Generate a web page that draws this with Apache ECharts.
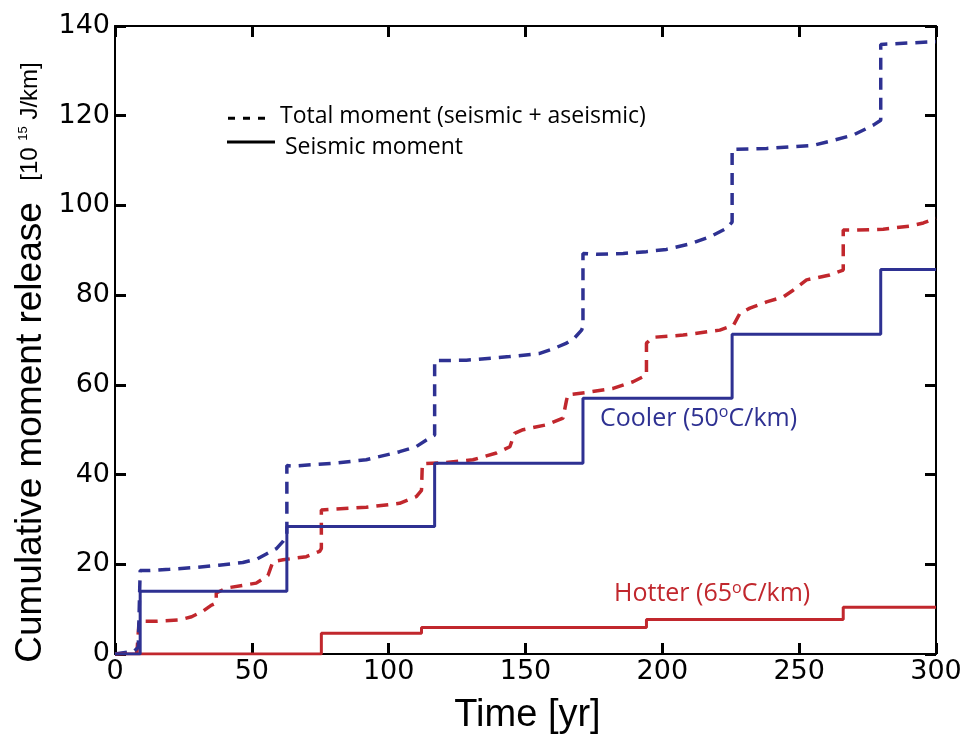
<!DOCTYPE html>
<html><head><meta charset="utf-8">
<script src="https://cdn.jsdelivr.net/npm/echarts@6/dist/echarts.min.js"></script>
<style>html,body{margin:0;padding:0;background:#fff}#c{width:974px;height:735px}</style>
</head><body><div id="c"></div>
<script>
// Axis ranges / ticks
const xMin = 0, xMax = 300, xStep = 50;
const yMin = 0, yMax = 140, yStep = 20;

// Seismic moment (step functions): [time, level after event]
const coolerSeismic = [[0,0],[9.2,14],[62.8,28.4],[116.8,42.5],[171,57],[225.5,71.3],[279.8,85.7],[300,85.7]];
const hotterSeismic = [[0,0],[75.4,4.6],[112,5.9],[194.2,7.7],[266.1,10.4],[300,10.4]];

// Total moment (seismic + aseismic)
const coolerTotal = [[0,0],[7,0.6],[8.5,1.5],[9.2,18.6],[12.6,18.6],[20,18.9],[29.7,19.3],[38,19.8],[46.7,20.4],[52,21.2],[55.3,22.3],[59,23.5],[61.4,25.1],[62.8,26.5],
  [62.8,42],[65,41.9],[79.6,42.5],[91.8,43.3],[104,45.1],[110,46.2],[113.8,47.7],[116.8,48.8],
  [116.8,65.4],[128.4,65.5],[144.2,66.3],[155.2,67],[160,68],[165,69.3],[168,70.5],[170.5,72.2],[171,73],
  [171,89.3],[176,89.1],[185.7,89.3],[194.2,89.7],[201.5,90.2],[210,91.4],[217.4,93],[223.5,94.9],[225.5,96.3],
  [225.5,112.5],[238.1,112.7],[247.8,113.1],[255.1,113.4],[261.9,114.4],[269.8,115.7],[277.1,117.9],[279.8,119],
  [279.8,135.9],[300,136.5]];
const hotterTotal = [[0,0],[8,0.3],[8.8,7.3],[15,7.3],[23.6,7.6],[28,8.3],[32,9.5],[35,10.8],[37,11.4],[37,13.6],[40.7,14.7],[51.6,15.8],[55.9,17.5],[57.7,20.6],[61.4,21],[69.9,21.7],[74.8,22.9],[75.4,23.5],
  [75.4,32.1],[79.6,32.3],[91.8,32.7],[104,33.6],[110.1,35.1],[112,36.5],[112.3,42.4],[121,42.7],[130.8,43.3],[139.4,44.8],[144.3,46.2],[146,49.2],[149.1,50],[157.7,51.1],[163.7,52.6],[165,56.6],[165.5,57.8],[172.3,58.3],[182,59.2],[189.3,60.7],[194.2,62.2],
  [194.2,69.3],[196.6,70.6],[207.6,71.1],[221,72.2],[226,73.3],[228.3,75.9],[232,77.1],[238.1,78.5],[244.2,79.6],[247.8,81.1],[252.7,83.4],[261.2,84.5],[266.1,85.6],
  [266.1,94.5],[271,94.5],[280.7,94.7],[290.5,95.4],[295.4,96.1],[300,97.1]];

const BLUE = '#2e3192', RED = '#c1272d';
const tickFont = 'DejaVu Sans';
const titleFont = 'Liberation Sans';
const noteFont = 'Open Sans';

function axisBase(extra) {
  return Object.assign({
    type: 'value',
    axisLine: { show: true, onZero: false, lineStyle: { color: '#000', width: 2 } },
    axisTick: { show: true, inside: true, length: 11, lineStyle: { color: '#000', width: 3 } },
    splitLine: { show: false },
    axisLabel: { color: '#000', fontFamily: tickFont, fontSize: 27 }
  }, extra);
}

const chart = echarts.init(document.getElementById('c'), null, { renderer: 'canvas' });
chart.setOption({
  animation: false,
  backgroundColor: '#fff',
  grid: { left: 115, right: 38, top: 26, bottom: 81, containLabel: false },
  xAxis: [
    axisBase({ min: xMin, max: xMax, interval: xStep, position: 'bottom',
      axisLabel: { color: '#000', fontFamily: tickFont, fontSize: 27, margin: 4 } }),
    axisBase({ min: xMin, max: xMax, interval: xStep, position: 'top', axisLabel: { show: false } })
  ],
  yAxis: [
    axisBase({ min: yMin, max: yMax, interval: yStep, position: 'left',
      axisLabel: { color: '#000', fontFamily: tickFont, fontSize: 27, margin: 5 } }),
    axisBase({ min: yMin, max: yMax, interval: yStep, position: 'right', axisLabel: { show: false } })
  ],
  series: [
    { type: 'line', name: 'Hotter total', data: hotterTotal, showSymbol: false, silent: true,
      lineStyle: { color: RED, width: 3.5, type: [12, 8] } },
    { type: 'line', name: 'Cooler total', data: coolerTotal, showSymbol: false, silent: true,
      lineStyle: { color: BLUE, width: 3.5, type: [12, 8] } },
    { type: 'line', name: 'Hotter seismic', data: hotterSeismic, step: 'end', showSymbol: false, silent: true,
      lineStyle: { color: RED, width: 3 } },
    { type: 'line', name: 'Cooler seismic', data: coolerSeismic, step: 'end', showSymbol: false, silent: true,
      lineStyle: { color: BLUE, width: 3 } }
  ],
  graphic: [
    // y-axis title
    { type: 'text', x: 30.5, y: 432.5, rotation: Math.PI / 2, silent: true,
      style: { text: 'Cumulative moment release', font: '37px "Liberation Sans"', fill: '#000',
        textAlign: 'center', textVerticalAlign: 'middle' } },
    { type: 'text', x: 30, y: 121.5, rotation: Math.PI / 2, silent: true,
      style: { text: '{m|[10 }{s|15}{m| J/km]}', fill: '#000', textAlign: 'center', textVerticalAlign: 'middle',
        rich: { m: { fontFamily: titleFont, fontSize: 24, lineHeight: 26, fill: '#000' },
                s: { fontFamily: titleFont, fontSize: 13, lineHeight: 13, verticalAlign: 'top', fill: '#000' } } } },
    // x-axis title
    { type: 'text', x: 527.5, y: 716, silent: true,
      style: { text: 'Time [yr]', font: '38px "Liberation Sans"', fill: '#000',
        textAlign: 'center', textVerticalAlign: 'middle' } },
    // legend
    { type: 'line', silent: true, shape: { x1: 228, y1: 118.3, x2: 266, y2: 118.3 },
      style: { stroke: '#000', lineWidth: 3, lineDash: [7, 8] } },
    { type: 'text', x: 280, y: 116.7, silent: true,
      style: { text: 'Total moment (seismic + aseismic)', font: '23px "Open Sans"', fill: '#000',
        textAlign: 'left', textVerticalAlign: 'middle' } },
    { type: 'line', silent: true, shape: { x1: 227, y1: 142, x2: 275, y2: 142 },
      style: { stroke: '#000', lineWidth: 3 } },
    { type: 'text', x: 285, y: 147, silent: true,
      style: { text: 'Seismic moment', font: '23px "Open Sans"', fill: '#000',
        textAlign: 'left', textVerticalAlign: 'middle' } },
    // annotations
    { type: 'text', x: 600, y: 418.5, silent: true,
      style: { text: '{m|Cooler (50}{s|o}{m|C/km)}', textAlign: 'left', textVerticalAlign: 'middle',
        rich: { m: { fontFamily: noteFont, fontSize: 25, lineHeight: 28, fill: BLUE },
                s: { fontFamily: noteFont, fontSize: 16, lineHeight: 17, verticalAlign: 'top', fill: BLUE } } } },
    { type: 'text', x: 614, y: 594, silent: true,
      style: { text: '{m|Hotter (65}{s|o}{m|C/km)}', textAlign: 'left', textVerticalAlign: 'middle',
        rich: { m: { fontFamily: noteFont, fontSize: 25, lineHeight: 28, fill: RED },
                s: { fontFamily: noteFont, fontSize: 16, lineHeight: 17, verticalAlign: 'top', fill: RED } } } }
  ]
});
</script></body></html>
